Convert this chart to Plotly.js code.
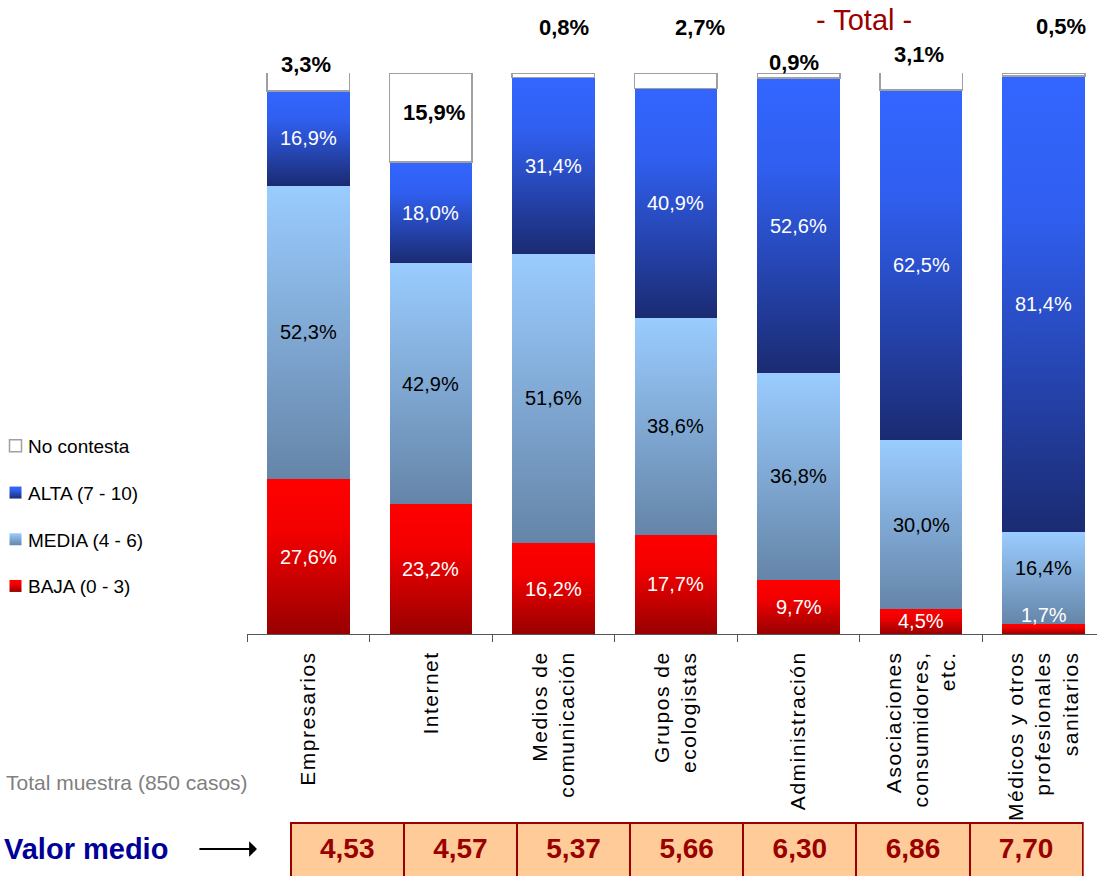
<!DOCTYPE html>
<html><head><meta charset="utf-8">
<script src="https://cdn.plot.ly/plotly-3.0.1.min.js"></script>
<style>
html,body{margin:0;padding:0;overflow:hidden;background:#fff}
#chart{width:1097px;height:900px}
.xtick text{letter-spacing:1.5px}
.table text.cell-text{transform:translateY(6px)}
</style></head><body><div id="chart"></div><script>
// ---- data ----
const categorias = ['Empresarios','Internet','Medios de<br>comunicación','Grupos de<br>ecologistas','Administración','Asociaciones<br>consumidores,<br>etc.','Médicos y otros<br>profesionales<br>sanitarios'];
const baja = [27.6, 23.2, 16.2, 17.7, 9.7, 4.5, 1.7];
const media = [52.3, 42.9, 51.6, 38.6, 36.8, 30.0, 16.4];
const alta = [16.9, 18.0, 31.4, 40.9, 52.6, 62.5, 81.4];
const noContesta = [3.3, 15.9, 0.8, 2.7, 0.9, 3.1, 0.5];
const valorMedio = [4.53, 4.57, 5.37, 5.66, 6.30, 6.86, 7.70];
const nombres = ['BAJA (0 - 3)', 'MEDIA (4 - 6)', 'ALTA (7 - 10)', 'No contesta'];
const tituloTotal = '- Total -';
const textoMuestra = 'Total muestra (850 casos)';
const textoValor = 'Valor medio';

// ---- layout constants ----
const FONT = 'Liberation Sans, Arial, sans-serif';
const W = 1097, H = 900, ML = 241, MT = 73, PW = W - ML, PH = H - MT;
const px2X = x => (x - ML) / PW;
const px2Y = y => (H - y) / PH;
const fmtPct = v => v.toFixed(1).replace('.', ',') + '%';
const fmtNum = v => v.toFixed(2).replace('.', ',');

const series = [baja, media, alta, noContesta];
const solid = ['#cc0000', '#80a8d4', '#2a48c0', '#ffffff'];
const labelColors = ['#ffffff', '#000000', '#ffffff', '#000000'];

const traces = series.map((vals, s) => ({
  type: 'bar', name: nombres[s], x: categorias, y: vals,
  legendgroup: 'g' + s, legendrank: 1000 - s,
  marker: {color: solid[s], line: s === 3 ? {color: '#a0a0a0', width: 1.5} : {width: 0}},
  hoverinfo: 'skip'
}));

traces.push({
  type: 'table',
  domain: {x: [px2X(285), px2X(1083)], y: [0, px2Y(823)]},
  columnwidth: valorMedio.map(() => 1),
  header: {
    values: valorMedio.map(fmtNum),
    fill: {color: '#ffcc99'},
    line: {color: '#990000', width: 2},
    align: 'center',
    height: 58,
    font: {family: 'Liberation Sans Narrow, Liberation Sans, Arial, sans-serif', size: 28, color: '#990000', weight: 'bold'}
  },
  cells: {values: []}
});

// label annotations (in-bar)
const annotations = [];
const insideShift = {'1-6': 10, '0-6': 14};
categorias.forEach((c, i) => {
  let base = 0;
  for (let s = 0; s < 3; s++) {
    const v = series[s][i];
    annotations.push({
      x: c, y: base + v / 2, xref: 'x', yref: 'y', xanchor: 'center', yanchor: 'middle', text: fmtPct(v), showarrow: false,
      yshift: insideShift[s + '-' + i] || 0,
      font: {family: FONT, size: 20, color: labelColors[s]}
    });
    base += v;
  }
});
// "No contesta" labels
const ncShiftY = [9, -39, 46, 46, 11, 19, 47];
const ncShiftX = [-2, 3, 11, 24, -5, -2, 17];
categorias.forEach((c, i) => {
  annotations.push({
    x: c, y: 100, xref: 'x', yref: 'y', xanchor: 'center', yanchor: 'middle', text: fmtPct(noContesta[i]), showarrow: false,
    xshift: ncShiftX[i], yshift: ncShiftY[i],
    font: {family: FONT, size: 22, color: '#000', weight: 'bold'}
  });
});
annotations.push(
  {xref: 'paper', yref: 'paper', x: px2X(862), y: px2Y(20), xanchor: 'center', yanchor: 'middle', text: tituloTotal, showarrow: false,
   font: {family: FONT, size: 29, color: '#990000'}},
  {xref: 'paper', yref: 'paper', x: px2X(244), y: px2Y(782), xanchor: 'right', yanchor: 'middle', text: textoMuestra, showarrow: false,
   font: {family: FONT, size: 21, color: '#808080'}},
  {xref: 'paper', yref: 'paper', x: px2X(-6), y: px2Y(849), xanchor: 'left', yanchor: 'middle', text: textoValor, showarrow: false,
   font: {family: FONT, size: 29, color: '#000099', weight: 'bold'}},
  {xref: 'paper', yref: 'paper', x: px2X(251), y: px2Y(849), ax: -59, ay: 0, text: '', showarrow: true,
   arrowhead: 1, arrowsize: 1.3, arrowwidth: 2, arrowcolor: '#000', standoff: 0}
);

const layout = {
  width: W, height: H,
  margin: {l: ML, r: 0, t: MT, b: 0, pad: 0},
  barmode: 'stack', bargap: 0.327,
  paper_bgcolor: '#ffffff', plot_bgcolor: 'rgba(0,0,0,0)',
  font: {family: FONT, color: '#000'},
  showlegend: true,
  legend: {x: px2X(-8), xanchor: 'left', y: px2Y(516), yanchor: 'middle',
    traceorder: 'grouped', tracegroupgap: 19,
    bgcolor: 'rgba(0,0,0,0)', borderwidth: 0, font: {family: FONT, size: 19, color: '#000'}},
  xaxis: {type: 'category', range: [-0.5, 6.435], showline: true, linecolor: '#555', linewidth: 1,
    ticks: 'outside', tickson: 'boundaries', ticklen: 7, tickcolor: '#555', tickangle: -90,
    ticklabelstandoff: 8,
    tickfont: {family: FONT, size: 21, color: '#000'}, showgrid: false, zeroline: false,
    fixedrange: true, automargin: false},
  yaxis: {range: [0, 100], domain: [px2Y(634), 1], visible: false, fixedrange: true},
  annotations: annotations
};

const gd = document.getElementById('chart');
const NS = 'http://www.w3.org/2000/svg';
const grads = {
  0: [[0, '#ff0000'], [0.35, '#f20000'], [1, '#980000']],
  1: [[0, '#9accff'], [1, '#6585a8']],
  2: [[0, '#3366ff'], [0.3, '#305ff0'], [1, '#1b2b72']]
};
const LEG_ICON_CX = 15.5, LEG_TEXT_X = 28;
function restyleDom() {
  const svg = gd.querySelector('svg.main-svg');
  if (!svg) return;
  if (!svg.querySelector('#customGrads')) {
    const defs = document.createElementNS(NS, 'defs');
    defs.setAttribute('id', 'customGrads');
    Object.keys(grads).forEach(k => {
      const lg = document.createElementNS(NS, 'linearGradient');
      lg.setAttribute('id', 'grad' + k);
      lg.setAttribute('x1', '0'); lg.setAttribute('y1', '0');
      lg.setAttribute('x2', '0'); lg.setAttribute('y2', '1');
      grads[k].forEach(([o, c]) => {
        const st = document.createElementNS(NS, 'stop');
        st.setAttribute('offset', o); st.setAttribute('stop-color', c);
        lg.appendChild(st);
      });
      defs.appendChild(lg);
    });
    svg.insertBefore(defs, svg.firstChild);
  }
  const idxOf = el => {
    const d = el.__data__;
    if (!d) return null;
    const d0 = Array.isArray(d) ? (Array.isArray(d[0]) ? d[0][0] : d[0]) : d;
    return d0 && d0.trace ? d0.trace.index : null;
  };
  gd.querySelectorAll('g.trace.bars').forEach(g => {
    const i = idxOf(g);
    if (grads[i]) g.querySelectorAll('path').forEach(p => { p.style.fill = 'url(#grad' + i + ')'; });
  });
  gd.querySelectorAll('g.traces').forEach(g => {
    const i = idxOf(g);
    if (grads[i]) g.querySelectorAll('.legendpoints path').forEach(p => { p.style.fill = 'url(#grad' + i + ')'; });
  });
  const host = gd.getBoundingClientRect();
  gd.querySelectorAll('text.legendtext').forEach(t => {
    t.style.transform = '';
    const r = t.getBoundingClientRect();
    t.style.transform = 'translateX(' + (LEG_TEXT_X - (r.left - host.left)) + 'px)';
  });
  gd.querySelectorAll('.legendpoints path').forEach(p => {
    p.style.transform = '';
    const m = /translate\(\s*([-\d.e]+)[\s,]+([-\d.e]+)\s*\)/.exec(p.getAttribute('transform') || '');
    const tx = m ? +m[1] : 0, ty = m ? +m[2] : 0;
    const r = p.getBoundingClientRect();
    const cx = (r.left + r.right) / 2 - host.left;
    p.style.transform = 'translate(' + (tx + LEG_ICON_CX - cx) + 'px,' + ty + 'px)';
  });
}
Plotly.newPlot(gd, traces, layout, {displayModeBar: false, staticPlot: true}).then(() => {
  restyleDom();
  gd.on('plotly_afterplot', () => setTimeout(restyleDom, 0));
});
</script></body></html>
